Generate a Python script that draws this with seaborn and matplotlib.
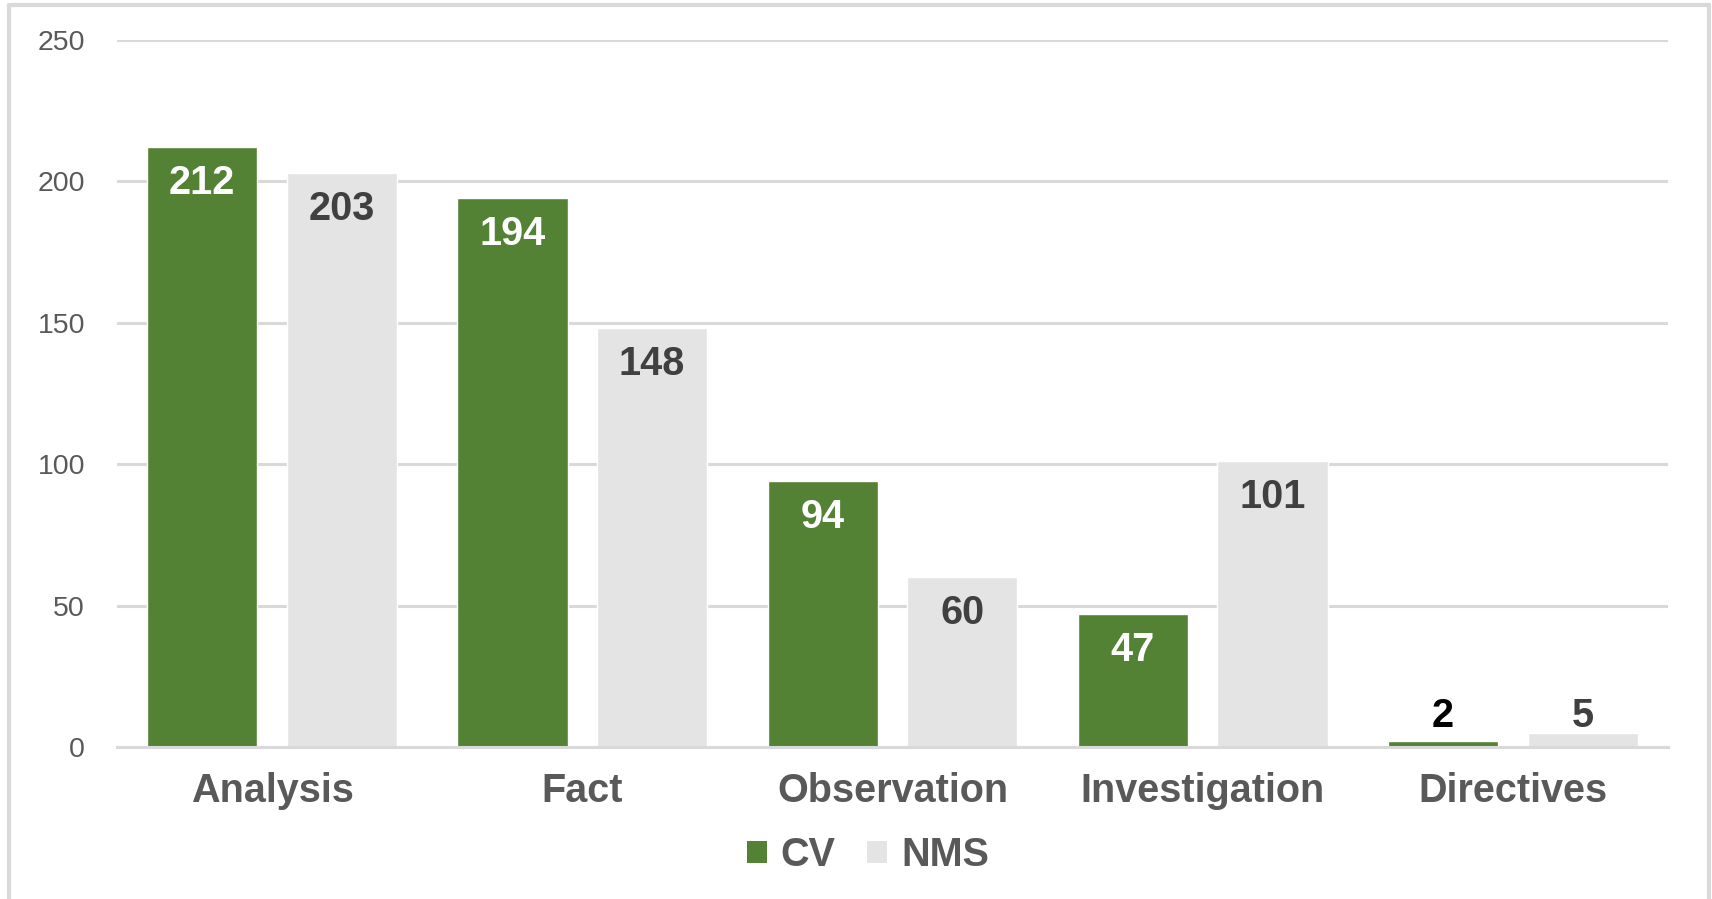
import matplotlib
matplotlib.use("Agg")
import matplotlib.pyplot as plt
import seaborn as sns
import pandas as pd
from matplotlib.lines import Line2D
from matplotlib.patches import Patch

categories = ["Analysis", "Fact", "Observation", "Investigation", "Directives"]
cv_values = [212, 194, 94, 47, 2]
nms_values = [203, 148, 60, 101, 5]
series_names = ["CV", "NMS"]
y_ticks = [0, 50, 100, 150, 200, 250]

GREEN = "#548235"
LGRAY = "#E4E4E4"
TXT = "#595959"

df = pd.DataFrame({
    "category": categories * 2,
    "series": [series_names[0]] * len(categories) + [series_names[1]] * len(categories),
    "value": cv_values + nms_values,
})

sns.set_theme(style="white")
plt.rcParams["font.family"] = ["Liberation Sans", "DejaVu Sans"]

fig = plt.figure(figsize=(17.12, 8.99), dpi=100)
ax = fig.add_axes([117 / 1712, 1 - 747 / 899, (1668 - 117) / 1712, (747 - 40) / 899])

sns.barplot(data=df, x="category", y="value", hue="series", order=categories,
            hue_order=series_names, palette=[GREEN, LGRAY], width=0.9, gap=0.21,
            saturation=1, legend=False, ax=ax, errorbar=None)

ax.set_ylim(0, 250)
ax.set_xlim(-0.5, len(categories) - 0.5)
ax.set_yticks(y_ticks)
ax.set_yticklabels([str(t) for t in y_ticks], fontsize=20.5, color=TXT)
ax.yaxis.grid(True, color="#D9D9D9", linewidth=2.2)
ax.set_axisbelow(True)
for s in ["top", "right", "left"]:
    ax.spines[s].set_visible(False)
ax.spines["bottom"].set_color("#D9D9D9")
ax.spines["bottom"].set_linewidth(2.2)
ax.tick_params(axis="y", length=0, pad=23)
ax.tick_params(axis="x", length=0, pad=18)
ax.set_xticks(range(len(categories)))
ax.set_xticklabels(categories, fontsize=28.5, fontweight="bold", color=TXT)
ax.set_xlabel("")
ax.set_ylabel("")

# data labels
label_colors = ["white", "#404040"]
small_colors = ["black", "#404040"]
for ci, cont in enumerate(ax.containers):
    for bar, val in zip(cont, [cv_values, nms_values][ci]):
        x = bar.get_x() + bar.get_width() / 2
        h = bar.get_height()
        if h > 20:
            ax.annotate(str(val), (x, h), xytext=(0, -36), textcoords="offset pixels",
                        ha="center", va="center", fontsize=28.5, fontweight="bold",
                        color=label_colors[ci])
        else:
            ax.annotate(str(val), (x, 0), xytext=(0, 31), textcoords="offset pixels",
                        ha="center", va="center", fontsize=28.5, fontweight="bold",
                        color=small_colors[ci])

handles = [Patch(facecolor=GREEN, edgecolor="none"), Patch(facecolor=LGRAY, edgecolor="none")]
fig.legend(handles, series_names, loc="center", bbox_to_anchor=(868 / 1712, 1 - 855 / 899),
           ncol=2, frameon=False, handlelength=0.5, handleheight=0.5, handletextpad=0.35,
           columnspacing=0.8, prop={"size": 28.5, "weight": "bold"}, labelcolor=TXT)

# figure border (left, top, right)
bc = "#D9D9D9"
fig.add_artist(Line2D([9 / 1712, 9 / 1712], [0, 1 - 5 / 899], transform=fig.transFigure, color=bc, linewidth=3))
fig.add_artist(Line2D([9 / 1712, 1709 / 1712], [1 - 5 / 899, 1 - 5 / 899], transform=fig.transFigure, color=bc, linewidth=3))
fig.add_artist(Line2D([1709 / 1712, 1709 / 1712], [0, 1 - 5 / 899], transform=fig.transFigure, color=bc, linewidth=3))

fig.savefig("out.png", dpi=100, facecolor="white")
